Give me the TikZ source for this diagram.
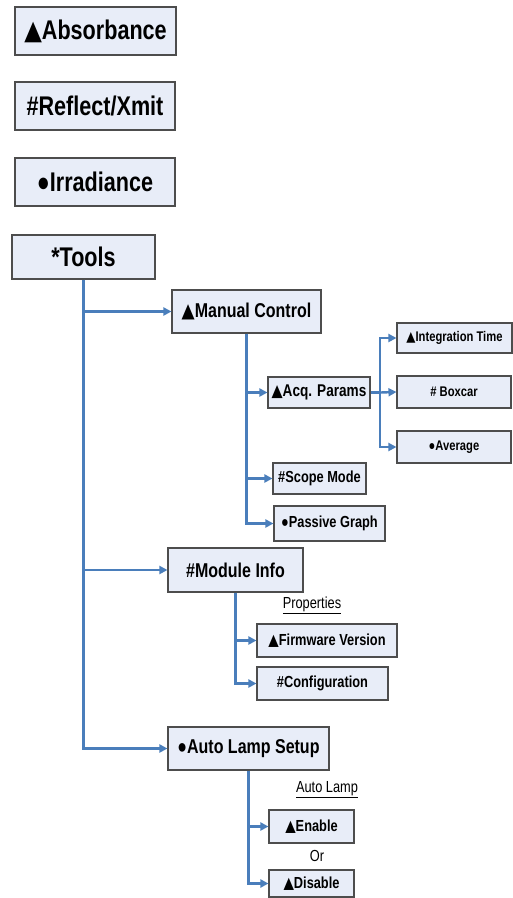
\documentclass[tikz,border=0pt]{standalone}
\usepackage{fontspec}
\setmainfont[FakeStretch=0.8]{Liberation Sans}
\newfontfamily\symfont[FakeStretch=0.85]{DejaVu Sans}
\newcommand{\tri}{{\symfont ▲}}
\usetikzlibrary{arrows.meta}
\definecolor{boxfill}{HTML}{E8EDF8}
\definecolor{boxline}{HTML}{4D4D4D}
\definecolor{linkblue}{HTML}{4A7EBB}
\begin{document}
\begin{tikzpicture}[x=1pt, y=-1pt,
    box/.style={draw=boxline, line width=1.1pt, fill=boxfill, inner sep=0pt, font=\bfseries},
    big/.style={font=\fontsize{27}{31}\selectfont\bfseries},
    mid/.style={font=\fontsize{20}{24}\selectfont\bfseries},
    small/.style={font=\fontsize{16}{19}\selectfont\bfseries},
    tiny/.style={font=\fontsize{14}{17}\selectfont\bfseries},
    note/.style={font=\fontsize{16}{19}\selectfont},
    link/.style={draw=linkblue, line width=2.4pt, -{Triangle[length=8pt, width=8pt]}}]
  \useasboundingbox (0, 0) rectangle (512, 898);
  \node [box, big, minimum width=161pt, minimum height=48pt] (absorb) at (95.5, 31) {\tri Absorbance};
  \node [box, big, minimum width=160pt, minimum height=48pt] (reflect) at (95, 106) {\#Reflect/Xmit};
  \node [box, big, minimum width=160pt, minimum height=48pt] (irrad) at (95, 182) {●Irradiance};
  \node [box, big, minimum width=143pt, minimum height=44pt] (tools) at (83.5, 257) {*Tools};
  \node [box, mid, minimum width=149pt, minimum height=43pt] (manual) at (246.5, 311.5) {\tri Manual Control};
  \node [box, font=\fontsize{17}{20}\selectfont\bfseries, minimum width=102pt, minimum height=31pt] (acq) at (319, 392.5) {\tri Acq. Params};
  \node [box, tiny, minimum width=115pt, minimum height=30pt] (integ) at (454.5, 338) {\tri Integration Time};
  \node [box, tiny, minimum width=114pt, minimum height=32pt] (boxcar) at (454, 392) {\# Boxcar};
  \node [box, tiny, minimum width=114pt, minimum height=32pt] (average) at (454, 447) {●Average};
  \node [box, small, minimum width=93pt, minimum height=31pt] (scope) at (319.5, 478.5) {\#Scope Mode};
  \node [box, small, minimum width=111pt, minimum height=35pt] (passive) at (329.5, 523.5) {●Passive Graph};
  \node [box, mid, minimum width=135pt, minimum height=44pt] (module) at (235.5, 570) {\#Module Info};
  \node [note] (props) at (312, 605) {\underline{Properties}};
  \node [box, small, minimum width=140pt, minimum height=33pt] (firmware) at (327, 640.5) {\tri Firmware Version};
  \node [box, small, minimum width=131pt, minimum height=33pt] (config) at (322.5, 683.5) {\#Configuration};
  \node [box, mid, minimum width=161pt, minimum height=43pt] (lamp) at (248.5, 748.5) {●Auto Lamp Setup};
  \node [note] (lamplabel) at (327, 790) {\underline{Auto Lamp}};
  \node [box, small, minimum width=85pt, minimum height=33pt] (enable) at (311.5, 826.5) {\tri Enable};
  \node [note] (or) at (317, 856) {Or};
  \node [box, small, minimum width=85pt, minimum height=27pt] (disable) at (311.5, 883.5) {\tri Disable};
  \coordinate (acqfork) at (380, 392.5);
  \draw [link] (tools.south) |- (manual.west);
  \draw [link] (tools.south) |- (module.west);
  \draw [link] (tools.south) |- (lamp.west);
  \draw [link] (manual.south) |- (acq.west);
  \draw [link] (manual.south) |- (scope.west);
  \draw [link] (manual.south) |- (passive.west);
  \draw [draw=linkblue, line width=2.4pt] (acq.east) -- (acqfork);
  \draw [link] (acqfork) |- (integ.west);
  \draw [link] (acqfork) -- (boxcar.west);
  \draw [link] (acqfork) |- (average.west);
  \draw [link] (module.south) |- (firmware.west);
  \draw [link] (module.south) |- (config.west);
  \draw [link] (lamp.south) |- (enable.west);
  \draw [link] (lamp.south) |- (disable.west);
\end{tikzpicture}
\end{document}
